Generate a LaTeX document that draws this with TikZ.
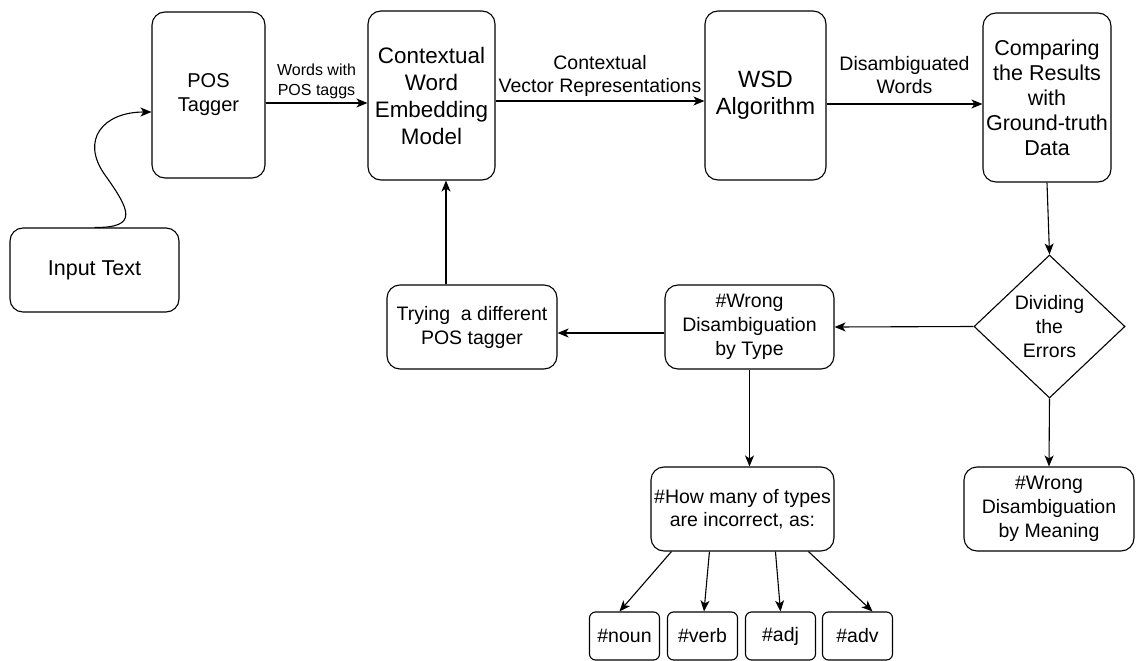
\documentclass[tikz,border=0pt]{standalone}
\usepackage{fontspec}
\setmainfont{Liberation Sans}
\usetikzlibrary{arrows.meta,shapes.geometric}
\tikzset{
	blk/.style={draw, line width=1.1pt, rounded corners=13pt, align=center, inner sep=0pt, font=\fontsize{19.5}{24}\selectfont},
	tag/.style={blk, rounded corners=6pt, minimum width=70pt, minimum height=48pt},
	arr/.style={line width=1.1pt, -{Stealth[length=11pt,width=9pt,inset=3pt]}},
	lbl/.style={font=\fontsize{19.5}{23}\selectfont, align=center, inner sep=4pt}
}
\begin{document}
\begin{tikzpicture}[x=1pt, y=-1pt]
	\useasboundingbox (0,0) rectangle (1136,661);
	\node [blk, minimum width=169pt, minimum height=84pt, font=\fontsize{21.5}{25}\selectfont] (input) at (94.5,270) {Input Text};
	\node [blk, minimum width=113pt, minimum height=166pt, font=\fontsize{20}{24}\selectfont] (pos) at (208.5,95) {POS\\Tagger};
	\node [blk, minimum width=127pt, minimum height=169pt, font=\fontsize{22.4}{27}\selectfont] (cwe) at (431.5,95.5) {Contextual\\Word\\Embedding\\Model};
	\node [blk, minimum width=121pt, minimum height=169pt, font=\fontsize{23.5}{27}\selectfont] (wsd) at (765.5,95.5) {WSD\\Algorithm};
	\node [blk, minimum width=128pt, minimum height=169pt, font=\fontsize{21.5}{25}\selectfont] (cmp) at (1047,97.5) {Comparing\\the Results\\with\\Ground-truth\\Data};
	\node [draw, diamond, line width=1.1pt, align=center, inner sep=0pt, minimum width=151pt, minimum height=143pt, font=\fontsize{19.5}{24}\selectfont] (div) at (1049.5,326.5) {Dividing\\the\\Errors};
	\node [blk, minimum width=169pt, minimum height=84pt] (wtype) at (749.5,327) {\#Wrong\\Disambiguation\\by Type};
	\node [blk, minimum width=170pt, minimum height=84pt] (try) at (472,327) {Trying~~a different\\POS tagger};
	\node [blk, minimum width=183pt, minimum height=84pt, font=\fontsize{19.5}{23}\selectfont] (howmany) at (742.5,509) {\#How many of types\\are incorrect, as:};
	\node [blk, minimum width=170pt, minimum height=84pt] (wmean) at (1049,509) {\#Wrong\\Disambiguation\\by Meaning};
	\node [tag] (noun) at (624.5,636) {\#noun};
	\node [tag] (verb) at (702.5,636) {\#verb};
	\node [tag] (adj) at (780.5,636) {\#adj};
	\node [tag] (adv) at (857.5,636) {\#adv};
	\draw [arr] (input.north) .. controls (139,228) and (130,210) .. (105,175) .. controls (80,140) and (103,112) .. ([yshift=-17pt]pos.west);
	\draw [arr] ([yshift=-8pt]pos.east) -- node [above, lbl, font=\fontsize{16}{20}\selectfont] {Words with\\POS taggs} ([yshift=-8pt]pos.east -| cwe.west);
	\draw [arr] ([yshift=-5.5pt]cwe.east) -- node [above, lbl] {Contextual\\Vector Representations} ([yshift=-5.5pt]cwe.east -| wsd.west);
	\draw [arr] ([yshift=-8.5pt]wsd.east) -- node [above, lbl, yshift=6pt] {Disambiguated\\Words} ([yshift=-8.5pt]wsd.east -| cmp.west);
	\draw [arr] (cmp.south) -- (div.north);
	\draw [arr] (div.west) -- (wtype.east);
	\draw [arr] (div.south) -- (wmean.north);
	\draw [arr] ([yshift=-6pt]wtype.west) -- ([yshift=-6pt]wtype.west -| try.east);
	\draw [arr] ([xshift=-26pt]try.north) -- ([xshift=-26pt]try.north |- cwe.south);
	\draw [arr] (wtype.south) -- (wtype.south |- howmany.north);
	\draw [arr] ([xshift=21pt]howmany.south west) -- ([xshift=-5pt]noun.north);
	\draw [arr] ([xshift=59pt]howmany.south west) -- ([xshift=1.5pt]verb.north);
	\draw [arr] ([xshift=125pt]howmany.south west) -- (adj.north);
	\draw [arr] ([xshift=158pt]howmany.south west) -- ([xshift=15pt]adv.north);
\end{tikzpicture}
\end{document}
